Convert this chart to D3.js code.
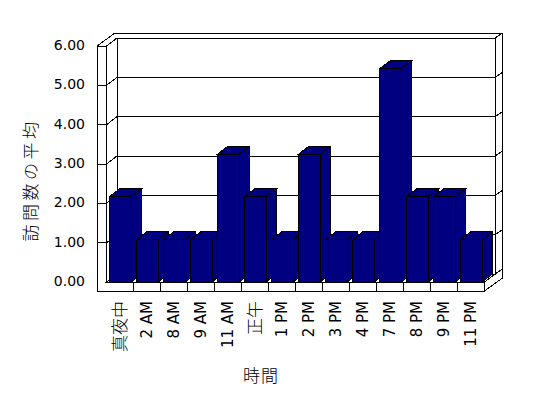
<!DOCTYPE html>
<meta charset="utf-8">
<head>
  <title>訪問数の平均</title>
</head>
<style>
body { margin: 0; background: #fff; }
svg { display: block; }
.edge { fill: none; stroke: #000; stroke-width: 1px; }
.face { fill: #fff; stroke: #000; stroke-width: 1px; }
.bar path { fill: #000080; stroke: #000; stroke-width: 1px; }
text { font-family: "DejaVu Sans", sans-serif; fill: #000; }
.cjk { font-family: "Noto Sans CJK JP", sans-serif; font-weight: 300; }
</style>
<body>
<script src="https://d3js.org/d3.v7.min.js"></script>
<script>
var width = 548,
  height = 398

// data
var categories = ["真夜中", "2 AM", "8 AM", "9 AM", "11 AM", "正午", "1 PM", "2 PM", "3 PM", "4 PM", "7 PM", "8 PM", "9 PM", "11 PM"]
var values = [2.17, 1.08, 1.08, 1.08, 3.25, 2.17, 1.08, 3.25, 1.08, 1.08, 5.42, 2.17, 2.17, 1.08]
var yTicks = [0, 1, 2, 3, 4, 5, 6]
var yTickLabels = ["0.00", "1.00", "2.00", "3.00", "4.00", "5.00", "6.00"]
var yTitle = "訪問数の平均"
var xTitle = "時間"

// 3d box geometry
var wallOuter = 97,      // left edge of the left wall
  floorH = 9,            // thickness of the floor front face
  D = [10.5, -8],        // depth of the plot box
  T = [7.5, -5]          // thickness of the back wall

var x = d3.scaleBand()
  .domain(categories)
  .range([106.5, 484.5])

var y = d3.scaleLinear()
  .domain([0, 6])
  .range([282, 46])

var x0 = x.range()[0], x1 = x.range()[1]
var y0 = y(0), yTop = y(6)

var svg = d3.select("body").append("svg")
  .attr("width", width)
  .attr("height", height)
  .attr("shape-rendering", "crispEdges")

var line = d3.line()

function seg(g, a, b) {
  g.append("path").attr("class", "edge").attr("d", line([a, b]))
}

var box = svg.append("g")

// back wall front face
box.append("path").attr("class", "face")
  .attr("d", line([[x0 + D[0], yTop + D[1]], [x1 + D[0], yTop + D[1]],
    [x1 + D[0], y0 + D[1]], [x0 + D[0], y0 + D[1]]]) + "Z")

// gridlines, left wall slants and back wall thickness ticks
yTicks.forEach(function(v) {
  var yy = y(v)
  if (v > 0 && v < 6) {
    seg(box, [x0 + D[0], yy + D[1]], [x1 + D[0], yy + D[1]])
    seg(box, [wallOuter, yy], [x0, yy])
  }
  seg(box, [x0, yy], [x0 + D[0], yy + D[1]])
  seg(box, [x1 + D[0], yy + D[1]], [x1 + D[0] + T[0], yy + D[1] + T[1]])
})

// left wall top and outer top edge
seg(box, [wallOuter, yTop], [wallOuter + D[0] + T[0], yTop + D[1] + T[1]])
seg(box, [wallOuter + D[0] + T[0], yTop + D[1] + T[1]], [x1 + D[0] + T[0], yTop + D[1] + T[1]])
// right outer edge
seg(box, [x1 + D[0] + T[0], yTop + D[1] + T[1]], [x1 + D[0] + T[0], y0 + floorH + D[1] + T[1]])

// left wall + floor front face (L shape)
box.append("path").attr("class", "edge")
  .attr("d", line([[x0, yTop], [wallOuter, yTop], [wallOuter, y0 + floorH],
    [x1, y0 + floorH], [x1, y0], [x0, y0]]) + "Z")

// floor right side
seg(box, [x1, y0], [x1 + D[0], y0 + D[1]])
seg(box, [x1, y0 + floorH], [x1 + D[0] + T[0], y0 + floorH + D[1] + T[1]])

// floor top
box.append("path").attr("class", "face")
  .attr("d", line([[x0, y0], [x1, y0], [x1 + D[0], y0 + D[1]], [x0 + D[0], y0 + D[1]]]) + "Z")

// category dividers on the floor front
categories.slice(1).forEach(function(c) {
  seg(box, [x(c), y0], [x(c), y0 + floorH])
})

// bars
var bw = x.bandwidth() * 0.8, off = 3
var bar = svg.selectAll(".bar")
  .data(categories)
  .enter().append("g")
  .attr("class", "bar")

bar.each(function(c, i) {
  var g = d3.select(this)
  var bx = x(c) + off, by = y(values[i])
  g.append("path").attr("d", line([[bx, by], [bx + bw, by], [bx + bw + D[0], by + D[1]], [bx + D[0], by + D[1]]]) + "Z")
  g.append("path").attr("d", line([[bx + bw, by], [bx + bw + D[0], by + D[1]], [bx + bw + D[0], y0 + D[1]], [bx + bw, y0]]) + "Z")
  g.append("path").attr("d", line([[bx, by], [bx + bw, by], [bx + bw, y0], [bx, y0]]) + "Z")
})

// y tick labels
svg.selectAll(".ylab")
  .data(yTicks)
  .enter().append("text")
  .attr("class", "ylab")
  .attr("x", 85)
  .attr("y", function(d) { return y(d) - 1 })
  .attr("dy", "0.36em")
  .attr("text-anchor", "end")
  .style("font-size", "14px")
  .text(function(d, i) { return yTickLabels[i] })

// category labels, rotated
svg.selectAll(".xlab")
  .data(categories)
  .enter().append("text")
  .attr("class", function(d) { return /[^\x00-\x7f]/.test(d) ? "xlab cjk" : "xlab" })
  .attr("transform", function(d) { return "translate(" + (x(d) + x.bandwidth() / 2) + ",301) rotate(-90)" })
  .attr("dy", "0.36em")
  .attr("text-anchor", "end")
  .style("font-size", function(d) { return /[^\x00-\x7f]/.test(d) ? "17px" : "15px" })
  .text(function(d) { return d })

// axis titles
svg.append("text")
  .attr("class", "cjk")
  .attr("transform", "translate(31,180) rotate(-90)")
  .attr("dy", "0.36em")
  .attr("text-anchor", "middle")
  .style("font-size", "17px")
  .style("letter-spacing", "3.5px")
  .text(yTitle)

svg.append("text")
  .attr("class", "cjk")
  .attr("x", 261)
  .attr("y", 376)
  .attr("dy", "0.36em")
  .attr("text-anchor", "middle")
  .style("font-size", "17px")
  .style("letter-spacing", "1px")
  .text(xTitle)
</script>
</body>
</html>
